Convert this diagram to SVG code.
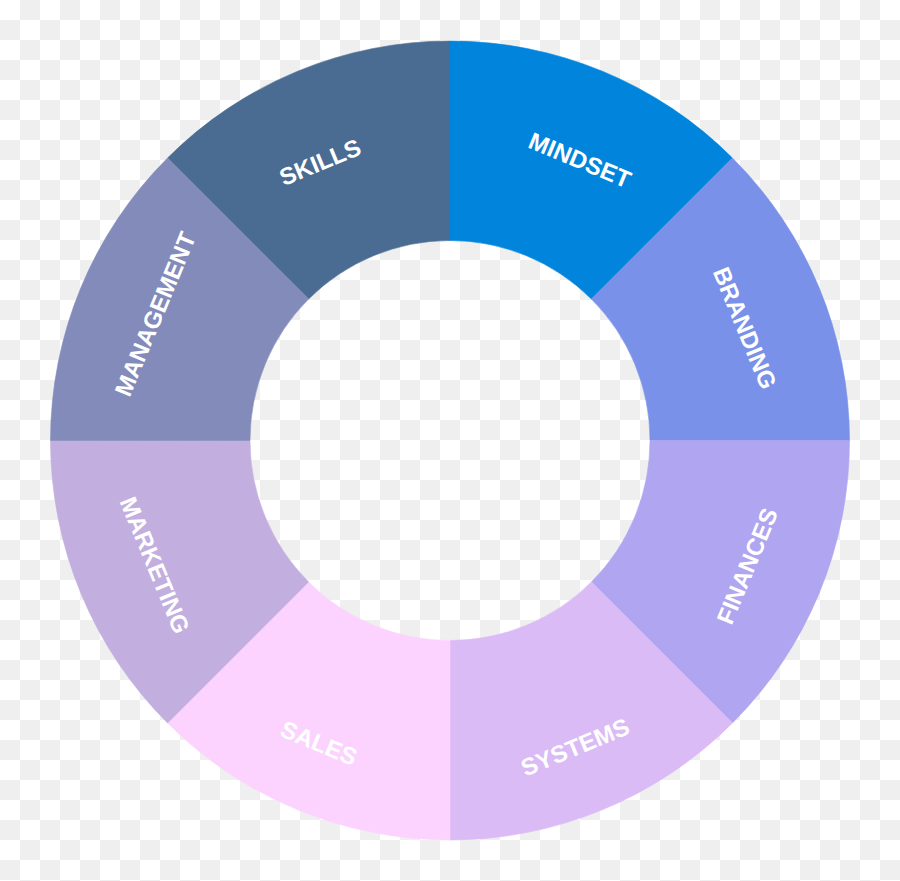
<svg xmlns="http://www.w3.org/2000/svg" width="900" height="881" viewBox="0 0 900 881">
<defs>
<pattern id="checker" x="0" y="0" width="40" height="40" patternUnits="userSpaceOnUse">
<rect width="40" height="40" fill="#ffffff"/>
<rect x="20" y="0" width="20" height="20" fill="#efefef"/>
<rect x="0" y="20" width="20" height="20" fill="#efefef"/>
</pattern>
<style>
.seg path{stroke-width:0.6}
.lbl{font-family:"Liberation Sans",Arial,sans-serif;font-size:24px;font-weight:bold;fill:#ffffff;text-anchor:middle;dominant-baseline:central}
</style>
</defs>
<rect width="900" height="881" fill="url(#checker)"/>
<g id="skills" class="seg">
<path d="M167.52 158.02 A399.5 399.5 0 0 1 450 41 L450 240.5 A200 200 0 0 0 308.58 299.08 Z" fill="#4a6c92" stroke="#4a6c92"/>
<text class="lbl" transform="translate(320 162) rotate(-22.5)">SKILLS</text>
</g>
<g id="mindset" class="seg">
<path d="M450 41 A399.5 399.5 0 0 1 732.48 158.02 L591.42 299.08 A200 200 0 0 0 450 240.5 Z" fill="#0084dc" stroke="#0084dc"/>
<text class="lbl" transform="translate(580 160) rotate(22.5)">MINDSET</text>
</g>
<g id="branding" class="seg">
<path d="M732.48 158.02 A399.5 399.5 0 0 1 849.5 440.5 L650 440.5 A200 200 0 0 0 591.42 299.08 Z" fill="#7991e8" stroke="#7991e8"/>
<text class="lbl" transform="translate(745 328) rotate(67.5)">BRANDING</text>
</g>
<g id="finances" class="seg">
<path d="M849.5 440.5 A399.5 399.5 0 0 1 732.48 722.98 L591.42 581.92 A200 200 0 0 0 650 440.5 Z" fill="#b0a5f0" stroke="#b0a5f0"/>
<text class="lbl" transform="translate(747 566) rotate(-67.5)">FINANCES</text>
</g>
<g id="systems" class="seg">
<path d="M732.48 722.98 A399.5 399.5 0 0 1 450 840 L450 640.5 A200 200 0 0 0 591.42 581.92 Z" fill="#dbbbf5" stroke="#dbbbf5"/>
<text class="lbl" transform="translate(575 747) rotate(-22.5)">SYSTEMS</text>
</g>
<g id="sales" class="seg">
<path d="M450 840 A399.5 399.5 0 0 1 167.52 722.98 L308.58 581.92 A200 200 0 0 0 450 640.5 Z" fill="#fbd3fe" stroke="#fbd3fe"/>
<text class="lbl" transform="translate(319 743) rotate(22.5)">SALES</text>
</g>
<g id="marketing" class="seg">
<path d="M167.52 722.98 A399.5 399.5 0 0 1 50.5 440.5 L250 440.5 A200 200 0 0 0 308.58 581.92 Z" fill="#c2afdf" stroke="#c2afdf"/>
<text class="lbl" transform="translate(155 565) rotate(67.5)">MARKETING</text>
</g>
<g id="management" class="seg">
<path d="M50.5 440.5 A399.5 399.5 0 0 1 167.52 158.02 L308.58 299.08 A200 200 0 0 0 250 440.5 Z" fill="#838bba" stroke="#838bba"/>
<text class="lbl" transform="translate(155 314) rotate(-67.5)">MANAGEMENT</text>
</g>
<g id="connectors"></g>
</svg>
